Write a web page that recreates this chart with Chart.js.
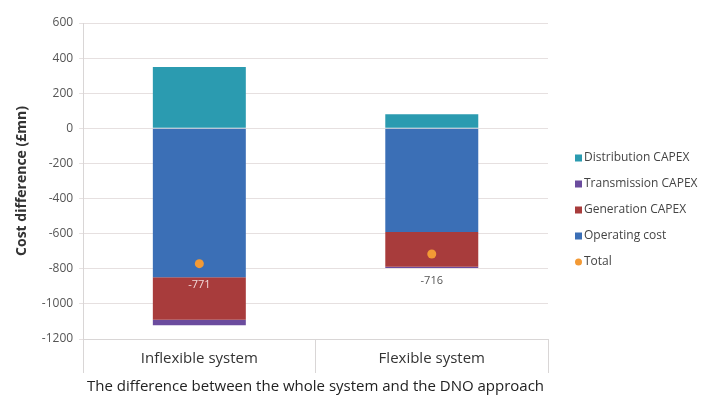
<!DOCTYPE html>
<html>
<head>
<meta charset="utf-8">
<script src="https://cdn.jsdelivr.net/npm/chart.js@4.4.1/dist/chart.umd.min.js"></script>
<style>
  html, body { margin: 0; padding: 0; background: #ffffff; }
  #wrap { width: 703px; height: 405px; position: relative; }
</style>
</head>
<body>
<div id="wrap"><canvas id="c" width="703" height="405"></canvas></div>
<script>
// Cost difference between the whole-system and DNO approach (£mn)
const categories = ['Inflexible system', 'Flexible system'];
const distributionCapex = [350, 80];
const transmissionCapex = [-30, -7];
const generationCapex = [-243, -199];
const operatingCost = [-848, -590];
const total = [-771, -716];
const yTicks = [600, 400, 200, 0, -200, -400, -600, -800, -1000, -1200];

const FONT = '"Open Sans", Lato, sans-serif';
const colors = {
  distribution: '#2b9bb0',
  transmission: '#6b4c9e',
  generation: '#a83c3c',
  operating: '#3b6fb6',
  total: '#f39a35'
};

// Legend entries in display order
const legendItems = [
  { text: 'Distribution CAPEX', color: colors.distribution, kind: 'box' },
  { text: 'Transmission CAPEX', color: colors.transmission, kind: 'box' },
  { text: 'Generation CAPEX', color: colors.generation, kind: 'box' },
  { text: 'Operating cost', color: colors.operating, kind: 'box' },
  { text: 'Total', color: colors.total, kind: 'dot' }
];

// Draws the side legend and the value labels under the Total markers
const extras = {
  id: 'extras',
  afterDatasetsDraw(chart) {
    const ctx = chart.ctx;
    ctx.save();
    // total value labels
    const meta = chart.getDatasetMeta(chart.data.datasets.length - 1);
    const labelColors = ['#f3dada', '#555555'];
    const labelOffsets = [21, 27];
    ctx.font = '11px ' + FONT;
    ctx.textAlign = 'center';
    ctx.textBaseline = 'middle';
    meta.data.forEach((pt, i) => {
      ctx.fillStyle = labelColors[i];
      ctx.fillText(String(total[i]), pt.x, pt.y + labelOffsets[i]);
    });
    // legend
    const lx = 575, ly0 = 158, step = 26;
    ctx.textAlign = 'left';
    ctx.font = '12px ' + FONT;
    legendItems.forEach((it, i) => {
      const y = ly0 + i * step;
      ctx.fillStyle = it.color;
      if (it.kind === 'box') {
        ctx.fillRect(lx, y - 3.5, 7, 7);
      } else {
        ctx.beginPath();
        ctx.arc(lx + 3.5, y, 3.5, 0, Math.PI * 2);
        ctx.fill();
      }
      ctx.fillStyle = '#444444';
      ctx.fillText(it.text, lx + 9, y);
    });
    ctx.restore();
  }
};

new Chart(document.getElementById('c'), {
  data: {
    labels: categories,
    datasets: [
      { type: 'bar', label: 'Operating cost', data: operatingCost, backgroundColor: colors.operating, stack: 'cost', order: 2 },
      { type: 'bar', label: 'Generation CAPEX', data: generationCapex, backgroundColor: colors.generation, stack: 'cost', order: 2 },
      { type: 'bar', label: 'Transmission CAPEX', data: transmissionCapex, backgroundColor: colors.transmission, stack: 'cost', order: 2 },
      { type: 'bar', label: 'Distribution CAPEX', data: distributionCapex, backgroundColor: colors.distribution, stack: 'cost', order: 2 },
      { type: 'line', label: 'Total', data: total, stack: 'total', showLine: false,
        pointRadius: 4.5, pointHoverRadius: 4.5, pointBackgroundColor: colors.total,
        pointBorderWidth: 0, borderColor: colors.total, order: 1 }
    ]
  },
  options: {
    responsive: false,
    animation: false,
    devicePixelRatio: 1,
    layout: { padding: { left: 14, right: 155, top: 23, bottom: 9 } },
    plugins: {
      legend: { display: false },
      tooltip: { enabled: false }
    },
    datasets: {
      bar: { barPercentage: 0.4, categoryPercentage: 1.0 }
    },
    scales: {
      x: {
        stacked: true,
        offset: true,
        grid: {
          display: true,
          offset: true,
          drawOnChartArea: false,
          drawTicks: true,
          tickLength: 34,
          color: '#d9d6d6'
        },
        border: { display: true, color: '#d9d6d6' },
        ticks: {
          font: { family: FONT, size: 15 },
          color: '#333333',
          padding: -23
        },
        title: {
          display: true,
          text: 'The difference between the whole system and the DNO approach',
          font: { family: FONT, size: 15 },
          color: '#222222',
          padding: { top: 33, bottom: 0 }
        }
      },
      y: {
        stacked: true,
        min: -1200,
        max: 600,
        afterBuildTicks(scale) {
          scale.ticks = yTicks.map(v => ({ value: v }));
        },
        grid: {
          color: '#e6e0e0',
          drawTicks: true,
          tickLength: 4
        },
        border: { display: true, color: '#d9d6d6' },
        ticks: {
          font: { family: FONT, size: 12 },
          color: '#555555',
          padding: 6,
          callback: (v) => String(v)
        },
        title: {
          display: true,
          text: 'Cost difference (£mn)',
          font: { family: FONT, size: 14, weight: 'bold' },
          color: '#333333',
          padding: { top: 0, bottom: 5 }
        }
      }
    }
  },
  plugins: [extras]
});
</script>
</body>
</html>
